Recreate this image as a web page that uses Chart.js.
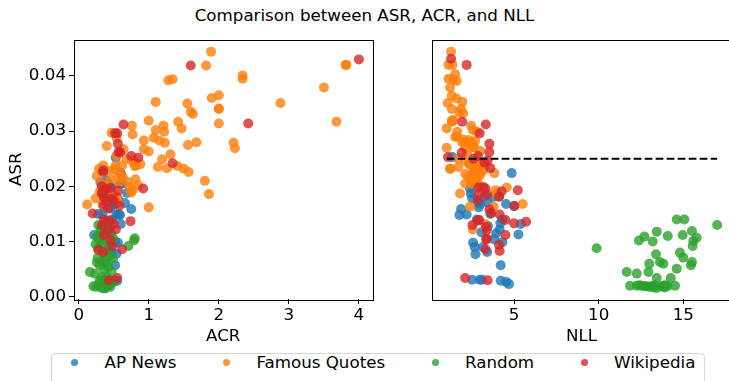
<!DOCTYPE html>
<html lang="en">
<head>
    <meta charset="UTF-8">
    <title>Comparison between ASR, ACR, and NLL</title>
    <style>
        body {
            margin: 0;
            width: 729px;
            height: 381px;
            overflow: hidden;
            background: #fff;
            position: relative;
            font-family: 'DejaVu Sans', sans-serif;
        }
        #title {
            position: absolute;
            top: 5px;
            left: 0;
            width: 729px;
            text-align: center;
            font-size: 16.7px;
            line-height: 20px;
            color: #000;
        }
        canvas {
            position: absolute;
            top: 0;
        }
        #acrChart { left: 0; }
        #nllChart { left: 392px; }
        #legend {
            position: absolute;
            left: 51px;
            top: 353px;
            width: 654px;
            height: 40px;
            box-sizing: border-box;
            border: 1px solid #d6d6d6;
            border-radius: 4px;
            padding: 0 0 0 6px;
            font-size: 16.7px;
            line-height: 20px;
            color: #000;
        }
        .row { display: flex; position: relative; top: -2px; }
        .item { display: flex; align-items: center; margin-right: 33.3px; }
        .handle { width: 33.3px; display: flex; justify-content: center; }
        .dot { width: 7px; height: 7px; border-radius: 50%; }
        .label { margin-left: 13.3px; white-space: nowrap; }
    </style>
</head>
<body>
    <div id="title">Comparison between ASR, ACR, and NLL</div>
    <canvas id="acrChart" width="380" height="350"></canvas>
    <canvas id="nllChart" width="345" height="350"></canvas>
    <div id="legend"><div class="row" id="legendRow"></div></div>
    <script src="https://cdn.jsdelivr.net/npm/chart.js"></script>
    <script>
        const seriesNames = ['AP News', 'Famous Quotes', 'Random', 'Wikipedia'];
        const seriesColors = ['rgba(31,119,180,0.8)', 'rgba(255,127,14,0.8)', 'rgba(44,160,44,0.8)', 'rgba(214,39,40,0.8)'];

        const asrTicks = [0, 0.01, 0.02, 0.03, 0.04];
        const acrTicks = [0, 1, 2, 3, 4];
        const nllTicks = [5, 10, 15];
        const asrThreshold = 0.025;

        // left panel: [ACR, ASR]
        const apNewsAcr = [[0.53,0.0252],[0.60,0.0224],[0.61,0.0214],[0.31,0.0208],[0.43,0.0203],[0.47,0.0199],[0.69,0.0188],[0.49,0.0183],
            [0.56,0.0178],[0.39,0.0175],[0.53,0.0169],[0.50,0.0167],[0.75,0.0159],[0.34,0.0148],[0.54,0.0149],[0.57,0.0149],[0.60,0.0132],
            [0.22,0.0112],[0.30,0.0111],[0.42,0.0122],[0.52,0.0100],[0.56,0.0098],[0.47,0.0080],[0.54,0.0078],[0.52,0.0057],[0.51,0.0029],
            [0.55,0.0029],[0.36,0.0016],[0.38,0.0190],[0.45,0.0160],[0.40,0.0135],[0.44,0.0090],[0.33,0.0125],[0.28,0.0150],[0.36,0.0185],
            [0.48,0.0140],[0.59,0.0205],[0.62,0.0205],[0.46,0.0115],[0.35,0.0065],[0.44,0.0030],[0.66,0.0170],[0.40,0.0210],[0.59,0.0148]];
        const quotesAcr = [[3.82,0.0420],[3.81,0.0420],[3.50,0.0379],[3.68,0.0317],[2.88,0.0351],[2.34,0.0401],[2.34,0.0395],[2.21,0.0279],
            [2.23,0.0269],[2.00,0.0365],[2.00,0.0340],[2.00,0.0341],[2.00,0.0314],[1.89,0.0444],[1.82,0.0419],[1.90,0.0360],[1.80,0.0210],
            [1.86,0.0186],[1.55,0.0350],[1.60,0.0335],[1.63,0.0331],[1.47,0.0305],[1.42,0.0317],[1.68,0.0280],[1.56,0.0275],[1.28,0.0392],
            [1.34,0.0394],[1.10,0.0353],[1.00,0.0319],[1.10,0.0302],[1.21,0.0310],[1.22,0.0299],[1.07,0.0288],[1.15,0.0283],[1.23,0.0279],
            [0.93,0.0283],[0.93,0.0267],[1.00,0.0263],[1.31,0.0258],[1.19,0.0249],[1.13,0.0235],[1.26,0.0233],[1.41,0.0237],[1.50,0.0232],
            [1.57,0.0226],[1.00,0.0162],[0.76,0.0310],[0.77,0.0294],[0.64,0.0267],[0.68,0.0250],[0.76,0.0246],[0.80,0.0237],[0.88,0.0240],
            [0.81,0.0213],[0.73,0.0199],[0.77,0.0193],[0.85,0.0202],[0.75,0.0189],[0.70,0.0208],[0.47,0.0297],[0.54,0.0288],[0.40,0.0273],
            [0.53,0.0238],[0.54,0.0256],[0.51,0.0231],[0.62,0.0238],[0.55,0.0219],[0.63,0.0217],[0.35,0.0238],[0.29,0.0232],[0.26,0.0219],
            [0.12,0.0167],[0.30,0.0190],[0.37,0.0201],[0.24,0.0178],[0.43,0.0228],[0.45,0.0212],[0.32,0.0205],[0.55,0.0180],[0.58,0.0207],
            [0.60,0.0222],[0.46,0.0185],[0.34,0.0170],[0.56,0.0173],[0.79,0.0247],[0.82,0.0238]];
        const randomAcr = [[0.28,0.0130],[0.26,0.0109],[0.30,0.0100],[0.40,0.0100],[0.49,0.0106],[0.80,0.0106],[0.79,0.0102],[0.71,0.0092],
            [0.28,0.0088],[0.35,0.0079],[0.45,0.0074],[0.49,0.0069],[0.26,0.0062],[0.30,0.0057],[0.38,0.0060],[0.42,0.0054],[0.16,0.0045],
            [0.23,0.0042],[0.33,0.0036],[0.40,0.0036],[0.38,0.0030],[0.21,0.0019],[0.25,0.0018],[0.30,0.0019],[0.35,0.0018],[0.40,0.0019],
            [0.45,0.0018],[0.28,0.0022],[0.33,0.0016],[0.38,0.0015],[0.43,0.0021],[0.31,0.0120],[0.36,0.0112],[0.33,0.0095],[0.42,0.0085],
            [0.27,0.0070],[0.36,0.0050],[0.47,0.0045],[0.30,0.0030],[0.50,0.0027],[0.24,0.0095],[0.44,0.0125],[0.39,0.0065]];
        const wikiAcr = [[4.00,0.0430],[1.60,0.0419],[2.42,0.0314],[1.34,0.0242],[0.64,0.0312],[0.52,0.0296],[0.55,0.0296],[0.56,0.0277],
            [0.57,0.0262],[0.59,0.0262],[0.75,0.0255],[0.85,0.0252],[0.92,0.0196],[0.35,0.0229],[0.20,0.0151],[0.74,0.0137],[0.62,0.0086],
            [0.55,0.0034],[0.43,0.0030],[0.33,0.0200],[0.38,0.0195],[0.45,0.0197],[0.33,0.0188],[0.36,0.0180],[0.40,0.0172],[0.50,0.0175],
            [0.56,0.0192],[0.58,0.0165],[0.35,0.0165],[0.42,0.0160],[0.36,0.0140],[0.44,0.0138],[0.50,0.0132],[0.33,0.0130],[0.42,0.0120],
            [0.53,0.0122],[0.36,0.0112],[0.45,0.0103],[0.48,0.0092],[0.28,0.0085],[0.35,0.0081],[0.35,0.0187],[0.47,0.0178],[0.35,0.0226]];

        // right panel: [NLL, ASR]
        const apNewsNll = [[4.86,0.0224],[4.53,0.0168],[5.00,0.0164],[5.39,0.0132],[5.26,0.0113],[1.87,0.0159],[1.77,0.0148],[2.20,0.0149],
            [2.91,0.0162],[2.87,0.0171],[3.43,0.0171],[3.27,0.0182],[3.76,0.0181],[4.13,0.0182],[4.19,0.0133],[4.15,0.0122],[4.31,0.0140],
            [3.07,0.0117],[3.82,0.0104],[4.31,0.0099],[2.58,0.0098],[2.68,0.0090],[2.72,0.0077],[3.41,0.0081],[3.17,0.0090],[4.21,0.0057],
            [2.52,0.0031],[2.97,0.0031],[3.11,0.0031],[4.21,0.0029],[4.53,0.0027],[4.70,0.0023],[2.40,0.0196],[2.44,0.0187],[2.52,0.0178],
            [3.46,0.0128],[1.35,0.0253],[2.60,0.0225],[3.00,0.0168],[3.60,0.0150],[2.80,0.0140],[3.95,0.0115]];
        const quotesNll = [[1.28,0.0444],[1.12,0.0420],[1.36,0.0420],[1.52,0.0403],[1.12,0.0395],[1.42,0.0394],[1.61,0.0391],[1.22,0.0379],
            [1.32,0.0364],[1.61,0.0359],[1.95,0.0353],[1.08,0.0351],[1.32,0.0340],[1.87,0.0340],[2.00,0.0332],[1.77,0.0334],[1.32,0.0319],
            [1.42,0.0320],[1.02,0.0305],[1.65,0.0299],[1.52,0.0290],[2.46,0.0310],[2.56,0.0302],[2.80,0.0299],[2.00,0.0285],[2.20,0.0279],
            [2.70,0.0282],[2.11,0.0270],[1.02,0.0270],[3.00,0.0264],[2.60,0.0271],[1.71,0.0250],[1.22,0.0232],[1.71,0.0235],[2.34,0.0240],
            [2.54,0.0238],[2.80,0.0235],[3.07,0.0238],[2.11,0.0223],[2.30,0.0217],[2.60,0.0223],[2.99,0.0220],[2.11,0.0205],[2.46,0.0211],
            [2.83,0.0214],[3.19,0.0229],[3.84,0.0224],[1.81,0.0187],[2.40,0.0163],[4.57,0.0198],[5.51,0.0168],[3.98,0.0187],[3.29,0.0132],
            [2.56,0.0122],[2.74,0.0208],[2.93,0.0202],[1.63,0.0290],[1.93,0.0280],[2.32,0.0284],[2.52,0.0280],[2.62,0.0271],[2.22,0.0260],
            [1.24,0.0232],[2.42,0.0241],[3.30,0.0238],[2.71,0.0220],[3.00,0.0226],[2.52,0.0205],[3.90,0.0193],[3.80,0.0163],[1.34,0.0317],
            [2.15,0.0245],[2.65,0.0230],[2.90,0.0245]];
        const randomNll = [[9.88,0.0088],[14.61,0.0140],[15.06,0.0140],[17.00,0.0130],[13.43,0.0118],[12.70,0.0109],[12.38,0.0102],
            [13.19,0.0100],[14.08,0.0110],[14.96,0.0112],[15.51,0.0119],[15.79,0.0107],[15.59,0.0101],[15.55,0.0092],[13.39,0.0077],
            [14.80,0.0080],[15.00,0.0071],[13.62,0.0063],[13.82,0.0060],[12.99,0.0060],[15.51,0.0063],[15.45,0.0057],[11.66,0.0045],
            [12.25,0.0042],[12.94,0.0045],[14.61,0.0051],[13.43,0.0034],[14.26,0.0034],[11.85,0.0020],[12.25,0.0020],[12.54,0.0020],
            [12.70,0.0019],[12.84,0.0019],[13.00,0.0018],[13.13,0.0019],[13.25,0.0017],[13.43,0.0016],[13.70,0.0019],[13.82,0.0020],
            [13.95,0.0021],[14.06,0.0019],[14.51,0.0020],[13.30,0.0021],[12.40,0.0021],[13.90,0.0017]];
        const wikiNll = [[1.28,0.0431],[2.20,0.0420],[1.93,0.0317],[3.33,0.0312],[2.97,0.0296],[3.54,0.0277],[3.54,0.0262],[1.91,0.0261],
            [2.87,0.0255],[1.10,0.0253],[3.44,0.0247],[3.60,0.0233],[2.89,0.0198],[3.19,0.0199],[3.31,0.0196],[2.91,0.0186],[2.85,0.0175],
            [4.27,0.0191],[4.11,0.0181],[5.22,0.0193],[5.02,0.0165],[3.54,0.0158],[3.64,0.0152],[4.15,0.0149],[2.54,0.0130],[2.85,0.0138],
            [2.95,0.0139],[3.35,0.0127],[3.39,0.0121],[4.49,0.0139],[5.00,0.0133],[5.71,0.0136],[4.49,0.0112],[3.35,0.0104],[3.40,0.0105],
            [4.11,0.0094],[3.31,0.0086],[4.15,0.0083],[2.11,0.0034],[3.44,0.0030],[2.60,0.0250],[3.40,0.0185],[3.25,0.0243]];

        const acrSeries = [apNewsAcr, quotesAcr, randomAcr, wikiAcr];
        const nllSeries = [apNewsNll, quotesNll, randomNll, wikiNll];

        Chart.defaults.font.family = "'DejaVu Sans', sans-serif";
        Chart.defaults.font.size = 16.7;
        Chart.defaults.color = '#000';

        // matplotlib-style box around the plot area
        const frame = {
            id: 'frame',
            afterDraw(chart) {
                const { ctx, chartArea: a } = chart;
                ctx.save();
                ctx.strokeStyle = '#000';
                ctx.lineWidth = 1;
                ctx.strokeRect(Math.round(a.left) + 0.5, Math.round(a.top) + 0.5,
                    Math.round(a.right - a.left), Math.round(a.bottom - a.top));
                ctx.restore();
            }
        };

        function scatterSets(series) {
            return series.map((pts, i) => ({
                label: seriesNames[i],
                data: pts.map(p => ({ x: p[0], y: p[1] })),
                backgroundColor: seriesColors[i],
                borderWidth: 0,
                pointRadius: 5,
                pointHoverRadius: 5,
                order: 4 - i
            }));
        }

        function tickGrid() {
            return { drawOnChartArea: false, drawTicks: true, tickLength: 5, color: '#000' };
        }

        function xScale(min, max, ticks, title) {
            return {
                type: 'linear',
                min: min,
                max: max,
                afterBuildTicks: s => { s.ticks = ticks.map(v => ({ value: v })); },
                afterFit: s => { s.height = 51; },
                grid: tickGrid(),
                border: { display: false },
                ticks: { padding: 2, maxRotation: 0, callback: v => String(v) },
                title: { display: true, text: title, padding: { top: 0, bottom: 3 } }
            };
        }

        const asrMin = -0.0004;
        const asrMax = 0.0466;

        new Chart(document.getElementById('acrChart'), {
            type: 'scatter',
            data: { datasets: scatterSets(acrSeries) },
            options: {
                responsive: false,
                animation: false,
                layout: { padding: { top: 39.5, right: 7.5, left: 0, bottom: 0 } },
                plugins: { legend: { display: false }, tooltip: { enabled: false } },
                scales: {
                    x: xScale(-0.067, 4.194, acrTicks, 'ACR'),
                    y: {
                        min: asrMin,
                        max: asrMax,
                        afterBuildTicks: s => { s.ticks = asrTicks.map(v => ({ value: v })); },
                        afterFit: s => { s.width = 74; },
                        grid: tickGrid(),
                        border: { display: false },
                        ticks: { padding: 3, callback: v => v.toFixed(2) },
                        title: { display: true, text: 'ASR', padding: { top: 7, bottom: 0 } }
                    }
                }
            },
            plugins: [frame]
        });

        const allNll = nllSeries.flat().map(p => p[0]);
        const nllLine = {
            type: 'line',
            label: 'threshold',
            data: [{ x: Math.min(...allNll), y: asrThreshold }, { x: Math.max(...allNll), y: asrThreshold }],
            borderColor: '#000',
            borderWidth: 2,
            borderDash: [7.7, 3.3],
            pointRadius: 0,
            fill: false,
            order: 0
        };

        new Chart(document.getElementById('nllChart'), {
            type: 'scatter',
            data: { datasets: scatterSets(nllSeries).concat([nllLine]) },
            options: {
                responsive: false,
                animation: false,
                layout: { padding: { top: 39.5, right: 6.3, left: 40.3, bottom: 0 } },
                plugins: { legend: { display: false }, tooltip: { enabled: false } },
                scales: {
                    x: xScale(0.17, 17.8, nllTicks, 'NLL'),
                    y: { display: false, min: asrMin, max: asrMax }
                }
            },
            plugins: [frame]
        });

        // shared legend under both panels
        const legendRow = document.getElementById('legendRow');
        seriesNames.forEach((name, i) => {
            const item = document.createElement('div');
            item.className = 'item';
            item.innerHTML = `<span class="handle"><span class="dot" style="background:${seriesColors[i]}"></span></span><span class="label">${name}</span>`;
            legendRow.appendChild(item);
        });
    </script>
</body>
</html>
